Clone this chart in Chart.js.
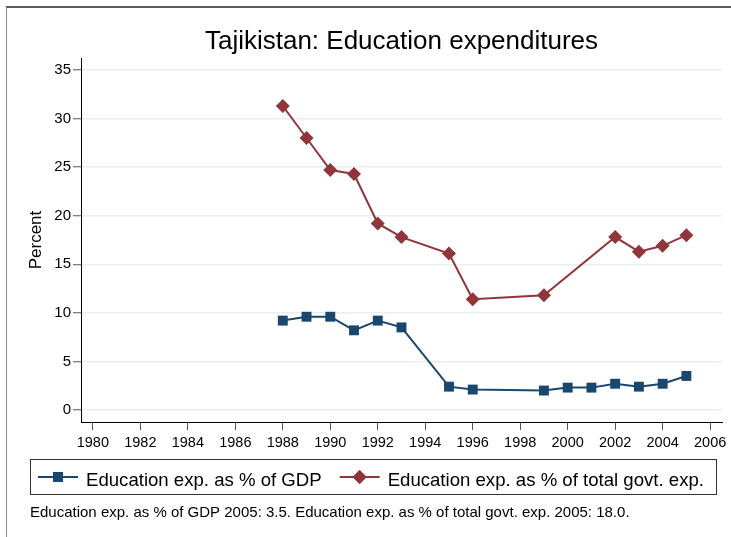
<!DOCTYPE html>
<html>
<head>
<meta charset="utf-8">
<script src="https://cdn.jsdelivr.net/npm/chart.js@4"></script>
<style>
  html, body { margin: 0; padding: 0; background: #fff; }
  #wrap { width: 731px; height: 537px; position: relative; }
</style>
</head>
<body>
<div id="wrap"><canvas id="chart" width="731" height="537"></canvas></div>
<script>
// データ
const chartTitle = 'Tajikistan: Education expenditures';
const yAxisTitle = 'Percent';
const footNote = 'Education exp. as % of GDP 2005: 3.5. Education exp. as % of total govt. exp. 2005: 18.0.';

const gdpLabel = 'Education exp. as % of GDP';
const gdpYears = [1988, 1989, 1990, 1991, 1992, 1993, 1995, 1996, 1999, 2000, 2001, 2002, 2003, 2004, 2005];
const gdpValues = [9.2, 9.6, 9.6, 8.2, 9.2, 8.5, 2.4, 2.1, 2.0, 2.3, 2.3, 2.7, 2.4, 2.7, 3.5];

const govLabel = 'Education exp. as % of total govt. exp.';
const govYears = [1988, 1989, 1990, 1991, 1992, 1993, 1995, 1996, 1999, 2002, 2003, 2004, 2005];
const govValues = [31.3, 28.0, 24.7, 24.3, 19.2, 17.8, 16.1, 11.4, 11.8, 17.8, 16.3, 16.9, 18.0];

const xTicks = [1980, 1982, 1984, 1986, 1988, 1990, 1992, 1994, 1996, 1998, 2000, 2002, 2004, 2006];
const yTicks = [0, 5, 10, 15, 20, 25, 30, 35];

const navy = '#1a476f';
const maroon = '#90353b';
const FONT = 'Arial, "Liberation Sans", sans-serif';

// 年と値をペアにする
function toPoints(years, values) {
    return years.map((y, i) => ({ x: y, y: values[i] }));
}

// タイトル・凡例・注記・枠線を描くプラグイン
const decorPlugin = {
    id: 'decor',
    afterDraw(chart) {
        const ctx = chart.ctx;
        const area = chart.chartArea;
        ctx.save();

        // 外枠
        ctx.strokeStyle = '#222';
        ctx.lineWidth = 1.5;
        ctx.beginPath();
        ctx.moveTo(6, 7); ctx.lineTo(731, 7);
        ctx.stroke();
        ctx.strokeStyle = '#888';
        ctx.lineWidth = 1;
        ctx.beginPath();
        ctx.moveTo(6.5, 7); ctx.lineTo(6.5, 537);
        ctx.stroke();

        // タイトル
        ctx.fillStyle = '#000';
        ctx.font = '26px ' + FONT;
        ctx.textAlign = 'center';
        ctx.textBaseline = 'alphabetic';
        ctx.fillText(chartTitle, (area.left + area.right) / 2, 49);

        // 凡例の枠
        ctx.strokeStyle = '#333';
        ctx.lineWidth = 1;
        ctx.strokeRect(30.5, 459.5, 686, 35);

        // 凡例の項目
        ctx.font = '18.6px ' + FONT;
        ctx.textAlign = 'left';
        let x = 38;
        const midY = 477;
        chart.data.datasets.forEach(ds => {
            ctx.strokeStyle = ds.borderColor;
            ctx.lineWidth = 2;
            ctx.beginPath();
            ctx.moveTo(x, midY); ctx.lineTo(x + 40, midY);
            ctx.stroke();
            ctx.fillStyle = ds.backgroundColor;
            Chart.helpers.drawPoint(ctx, {
                pointStyle: ds.pointStyle,
                radius: ds.pointRadius,
                borderWidth: 0,
                rotation: 0
            }, x + 20, midY);
            ctx.fill();
            ctx.fillStyle = '#000';
            ctx.fillText(ds.label, x + 48, 485.5);
            x += 48 + ctx.measureText(ds.label).width + 18;
        });

        // 注記
        ctx.font = '15px ' + FONT;
        ctx.fillText(footNote, 30, 517);
        ctx.restore();
    }
};

const ctx = document.getElementById('chart').getContext('2d');
new Chart(ctx, {
    type: 'line',
    data: {
        datasets: [
            {
                label: gdpLabel,
                data: toPoints(gdpYears, gdpValues),
                borderColor: navy,
                backgroundColor: navy,
                pointStyle: 'rect',
                pointRadius: 7,
                pointBorderWidth: 0,
                borderWidth: 2,
                tension: 0
            },
            {
                label: govLabel,
                data: toPoints(govYears, govValues),
                borderColor: maroon,
                backgroundColor: maroon,
                pointStyle: 'rectRot',
                pointRadius: 7,
                pointBorderWidth: 0,
                borderWidth: 2,
                tension: 0
            }
        ]
    },
    options: {
        responsive: false,
        animation: false,
        layout: {
            padding: { top: 58, right: 9, bottom: 85, left: 0 }
        },
        scales: {
            x: {
                type: 'linear',
                min: 1979.5,
                max: 2006.5,
                afterBuildTicks: scale => { scale.ticks = xTicks.map(v => ({ value: v })); },
                afterFit: scale => { scale.height = 30; },
                grid: {
                    drawOnChartArea: false,
                    tickLength: 8,
                    tickColor: '#555',
                    tickWidth: 1
                },
                border: { color: '#000', width: 1 },
                ticks: {
                    color: '#000',
                    padding: 4,
                    maxRotation: 0,
                    autoSkip: false,
                    font: { family: FONT, size: 14.5 },
                    callback: v => String(v)
                }
            },
            y: {
                type: 'linear',
                min: -1.24,
                max: 36.24,
                afterBuildTicks: scale => { scale.ticks = yTicks.map(v => ({ value: v })); },
                afterFit: scale => { scale.width = 81; },
                grid: {
                    color: '#e8eff1',
                    lineWidth: 1.5,
                    tickLength: 8,
                    tickColor: '#555',
                    tickWidth: 1
                },
                border: { color: '#000', width: 1 },
                ticks: {
                    color: '#000',
                    padding: 2,
                    font: { family: FONT, size: 15 }
                },
                title: {
                    display: true,
                    text: yAxisTitle,
                    color: '#000',
                    padding: { top: 26, bottom: 0 },
                    font: { family: FONT, size: 17 }
                }
            }
        },
        plugins: {
            legend: { display: false },
            title: { display: false },
            tooltip: { enabled: false }
        }
    },
    plugins: [decorPlugin]
});
</script>
</body>
</html>
